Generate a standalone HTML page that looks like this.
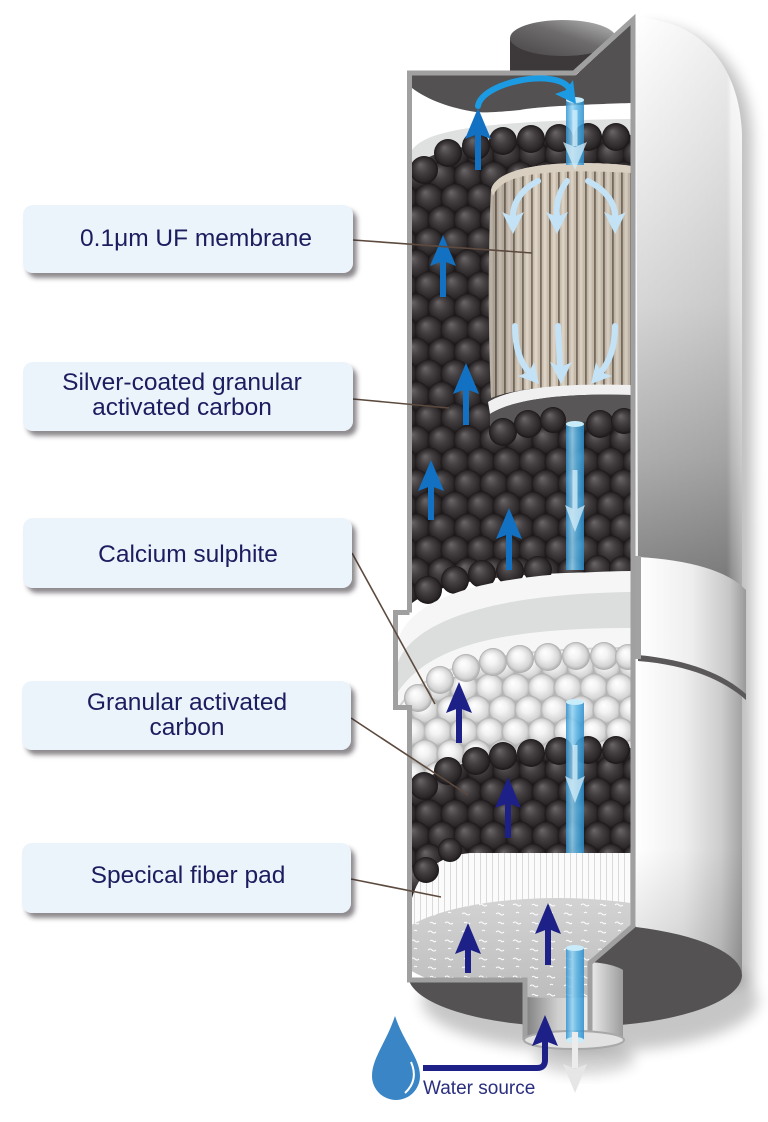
<!DOCTYPE html>
<html><head><meta charset="utf-8"><style>
html,body{margin:0;padding:0;background:#fff;}
svg{display:block;}
text{font-family:"Liberation Sans",Arial,sans-serif;}
</style></head><body>
<svg width="768" height="1122" viewBox="0 0 768 1122" xmlns="http://www.w3.org/2000/svg">
<defs>
<radialGradient id="gb" cx="0.5" cy="0.5" r="0.5" fx="0.36" fy="0.3"><stop offset="0" stop-color="#6a6566"/><stop offset="0.45" stop-color="#443f40"/><stop offset="0.85" stop-color="#2b2627"/><stop offset="1" stop-color="#1a1617"/></radialGradient>
<radialGradient id="gw" cx="0.5" cy="0.5" r="0.5" fx="0.38" fy="0.32"><stop offset="0" stop-color="#ffffff"/><stop offset="0.4" stop-color="#f3f3f3"/><stop offset="0.8" stop-color="#d5d5d5"/><stop offset="1" stop-color="#a9a9a9"/></radialGradient>
<pattern id="pc" width="52" height="44" patternUnits="userSpaceOnUse">
<rect width="52" height="44" fill="#1f1b1c"/>
<circle cx="0" cy="0" r="14.5" fill="url(#gb)"/><circle cx="26" cy="0" r="14.5" fill="url(#gb)"/><circle cx="52" cy="0" r="14.5" fill="url(#gb)"/>
<circle cx="13" cy="22" r="14.5" fill="url(#gb)"/><circle cx="39" cy="22" r="14.5" fill="url(#gb)"/>
<circle cx="0" cy="44" r="14.5" fill="url(#gb)"/><circle cx="26" cy="44" r="14.5" fill="url(#gb)"/><circle cx="52" cy="44" r="14.5" fill="url(#gb)"/>
</pattern>
<pattern id="pw" width="52" height="44" patternUnits="userSpaceOnUse" patternTransform="translate(9,6)">
<rect width="52" height="44" fill="#c6c6c6"/>
<circle cx="0" cy="0" r="14.5" fill="url(#gw)"/><circle cx="26" cy="0" r="14.5" fill="url(#gw)"/><circle cx="52" cy="0" r="14.5" fill="url(#gw)"/>
<circle cx="13" cy="22" r="14.5" fill="url(#gw)"/><circle cx="39" cy="22" r="14.5" fill="url(#gw)"/>
<circle cx="0" cy="44" r="14.5" fill="url(#gw)"/><circle cx="26" cy="44" r="14.5" fill="url(#gw)"/><circle cx="52" cy="44" r="14.5" fill="url(#gw)"/>
</pattern>
<pattern id="pm" width="9" height="20" patternUnits="userSpaceOnUse"><rect width="9" height="20" fill="#cbbfae"/><rect x="0" width="1.8" height="20" fill="#7b6f63"/><rect x="3.6" width="3" height="20" fill="#ded5c8"/></pattern>
<pattern id="pf" width="6" height="20" patternUnits="userSpaceOnUse"><rect width="6" height="20" fill="#fbfbfb"/><rect x="0" width="1" height="20" fill="#dadada"/></pattern>
<pattern id="pq" width="34" height="18" patternUnits="userSpaceOnUse"><path d="M3,5 q2,-2 4,0 t4,0 M20,14 q2,-2 4,0 t4,0 M22,5 q1.5,-1.5 3,0 t3,0 M6,13 q1.5,-1.5 3,0" stroke="#fff" stroke-width="1" fill="none"/></pattern>
<linearGradient id="upperG" gradientUnits="userSpaceOnUse" x1="0" y1="18" x2="0" y2="590"><stop offset="0" stop-color="#ffffff"/><stop offset="0.22" stop-color="#eeeeee"/><stop offset="0.5" stop-color="#d6d6d6"/><stop offset="0.77" stop-color="#adadad"/><stop offset="1" stop-color="#7e7e7e"/></linearGradient>
<linearGradient id="sideH" x1="0" y1="0" x2="1" y2="0"><stop offset="0" stop-color="#000" stop-opacity="0"/><stop offset="0.85" stop-color="#000" stop-opacity="0.06"/><stop offset="0.9" stop-color="#fff" stop-opacity="0.1"/><stop offset="1" stop-color="#fff" stop-opacity="0.35"/></linearGradient>
<linearGradient id="collarG" x1="0" y1="0" x2="1" y2="0"><stop offset="0" stop-color="#ffffff"/><stop offset="0.5" stop-color="#eeeeee"/><stop offset="0.85" stop-color="#c6c6c6"/><stop offset="1" stop-color="#999"/></linearGradient>
<linearGradient id="lowerG" x1="0" y1="0" x2="1" y2="0"><stop offset="0" stop-color="#ffffff"/><stop offset="0.45" stop-color="#efefef"/><stop offset="0.8" stop-color="#cdcdcd"/><stop offset="1" stop-color="#a3a3a3"/></linearGradient>
<linearGradient id="lowerV" x1="0" y1="0" x2="0" y2="1"><stop offset="0" stop-color="#000" stop-opacity="0"/><stop offset="0.6" stop-color="#000" stop-opacity="0"/><stop offset="1" stop-color="#000" stop-opacity="0.15"/></linearGradient>
<linearGradient id="capG" x1="0" y1="1" x2="1" y2="0"><stop offset="0" stop-color="#474445"/><stop offset="0.55" stop-color="#6e6c6c"/><stop offset="1" stop-color="#bdbdbd"/></linearGradient>
<linearGradient id="pipeG" x1="0" y1="0" x2="1" y2="0"><stop offset="0" stop-color="#2f93d1"/><stop offset="0.35" stop-color="#94d3f3"/><stop offset="0.6" stop-color="#58b5e7"/><stop offset="1" stop-color="#2a8ccb"/></linearGradient>
<linearGradient id="tubeIn" x1="0" y1="0" x2="1" y2="0"><stop offset="0" stop-color="#7a7a7a"/><stop offset="0.5" stop-color="#cfcfcf"/><stop offset="1" stop-color="#f2f2f2"/></linearGradient>
<linearGradient id="tubeOut" x1="0" y1="0" x2="1" y2="0"><stop offset="0" stop-color="#ededed"/><stop offset="1" stop-color="#9c9c9c"/></linearGradient>
<linearGradient id="diskG" x1="0" y1="0" x2="0" y2="1"><stop offset="0" stop-color="#d3d3d3"/><stop offset="1" stop-color="#bdbdbd"/></linearGradient>
<linearGradient id="memShade" x1="0" y1="0" x2="1" y2="0"><stop offset="0" stop-color="#000" stop-opacity="0.18"/><stop offset="0.3" stop-color="#000" stop-opacity="0"/><stop offset="1" stop-color="#000" stop-opacity="0.06"/></linearGradient>
<filter id="blur8" x="-30%" y="-30%" width="160%" height="160%"><feGaussianBlur stdDeviation="7"/></filter>
<filter id="sh" x="-10%" y="-20%" width="125%" height="150%"><feDropShadow dx="4" dy="5" stdDeviation="2.5" flood-color="#2e2a30" flood-opacity="0.55"/></filter>
<clipPath id="ci"><path d="M412,75.5 L575,75.5 L631,24 L631,925 L590,961 L590,1040 L527,1040 L527,978 L412,978 L412,710 L398,710 L398,615 L412,615 Z"/></clipPath>
</defs>

<rect width="768" height="1122" fill="#fff"/>

<!-- shadows -->
<path d="M646,26 C702,26 750,62 752,140 L753,985 L640,985 Z" fill="#000" opacity="0.25" filter="url(#blur8)"/>
<ellipse cx="590" cy="1000" rx="168" ry="52" fill="#000" opacity="0.22" filter="url(#blur8)"/>
<ellipse cx="585" cy="1058" rx="50" ry="16" fill="#000" opacity="0.18" filter="url(#blur8)"/>

<!-- top cap -->
<rect x="510" y="38" width="106" height="34" fill="#3d393a"/>
<ellipse cx="563" cy="38" rx="53" ry="18" fill="url(#capG)"/>

<!-- dark bottom -->
<ellipse cx="575" cy="975" rx="167" ry="52" fill="#545253"/>

<!-- shells -->
<path d="M636,18 C692,18 740,58 742,135 L742,590 C720,572 680,560 638,557 Z" fill="url(#upperG)"/>
<path d="M636,18 C692,18 740,58 742,135 L742,590 C720,572 680,560 638,557 Z" fill="url(#sideH)"/>
<path d="M636,658 C682,662 724,678 742,697 L742,975 A167,52 0 0 0 636,927 Z" fill="url(#lowerG)"/>
<path d="M636,658 C682,662 724,678 742,697 L742,975 A167,52 0 0 0 636,927 Z" fill="url(#lowerV)"/>
<path d="M638,557 C690,560 728,571 746,590 L746,694 C725,675 690,660 638,655 Z" fill="url(#collarG)"/>
<path d="M638,655 C690,660 725,675 746,694 L746,700 C725,681 690,665 638,661 Z" fill="#5a5858"/>
<rect x="631" y="556" width="10" height="103" fill="#a2a2a2"/>

<!-- tube outside -->
<path d="M590,962 C605,963 617,966 623,970 L623,1040 L590,1040 Z" fill="url(#tubeOut)"/>

<!-- interior -->
<g clip-path="url(#ci)">
<rect x="390" y="0" width="250" height="1050" fill="#ffffff"/>
<path d="M412,75 L576,75 L631,24 L631,103 C600,104 540,106 520,110 C500,112 485,113 476,112 C450,108 428,100 412,88 Z" fill="#535152"/>
<path d="M412,150 C425,132 470,121 631,119 L631,137 C480,137 432,150 412,170 Z" fill="#dfe0e0"/>
<!-- carbon 1 -->
<path d="M412,168 C430,150 480,137 631,135 L631,572 C500,572 440,582 412,603 Z" fill="url(#pc)"/>
<g fill="url(#gb)">
<circle cx="424" cy="170" r="14"/><circle cx="448" cy="153" r="14"/><circle cx="476" cy="146" r="14"/><circle cx="503" cy="141" r="14"/><circle cx="531" cy="139" r="14"/><circle cx="559" cy="138" r="14"/><circle cx="588" cy="137" r="14"/><circle cx="616" cy="137" r="14"/>
<circle cx="428" cy="590" r="14"/><circle cx="455" cy="580" r="14"/><circle cx="482" cy="574" r="14"/><circle cx="510" cy="571" r="14"/><circle cx="538" cy="570" r="14"/><circle cx="598" cy="569" r="14"/><circle cx="622" cy="569" r="13"/>
</g>
<!-- membrane -->
<path d="M491,190 C495,172 530,164 575,163 C600,163 620,164 631,166 L631,388 C580,384 520,386 491,398 C488,330 488,250 491,190 Z" fill="url(#pm)"/>
<path d="M491,190 C495,172 530,164 575,163 C600,163 620,164 631,166 L631,388 C580,384 520,386 491,398 C488,330 488,250 491,190 Z" fill="url(#memShade)"/>
<path d="M491,190 C495,172 530,164 575,163 C600,163 620,164 631,166 L631,173 C600,171 575,171 560,172 C520,174 500,180 493,196 Z" fill="#d9cfc1"/>
<!-- plate -->
<path d="M488,402 C510,388 560,383 631,385 L631,395 C570,393 515,398 490,414 Z" fill="#f0f0f0"/>
<path d="M490,414 C515,398 570,393 631,395 L631,418 L490,430 Z" fill="#585657"/>
<g fill="url(#gb)">
<circle cx="503" cy="432" r="14"/><circle cx="528" cy="424" r="14"/><circle cx="553" cy="420" r="13"/><circle cx="600" cy="424" r="14"/><circle cx="624" cy="421" r="13"/>
</g>
<!-- separator ring -->
<path d="M398,640 C412,598 480,573 631,571 L631,655 C500,655 430,668 398,715 Z" fill="#f6f6f6"/>
<path d="M398,662 C414,622 488,594 631,592 L631,628 C495,628 428,648 398,692 Z" fill="#dcdede"/>
<path d="M400,706 C425,667 495,648 631,648" stroke="#d2d4d4" stroke-width="2" fill="none"/>
<!-- white balls -->
<path d="M398,718 C425,676 495,655 631,653 L631,810 L398,810 Z" fill="url(#pw)"/>
<g fill="url(#gw)">
<circle cx="418" cy="698" r="14"/><circle cx="440" cy="680" r="14"/><circle cx="466" cy="668" r="14"/><circle cx="493" cy="662" r="14"/><circle cx="520" cy="659" r="14"/><circle cx="548" cy="657" r="14"/><circle cx="576" cy="656" r="14"/><circle cx="604" cy="656" r="14"/><circle cx="628" cy="657" r="13"/>
</g>
<!-- fiber band -->
<rect x="412" y="852" width="220" height="110" fill="url(#pf)"/>
<!-- carbon 2 -->
<path d="M412,792 C430,766 480,752 631,748 L631,853 L470,853 C440,856 420,870 412,898 Z" fill="url(#pc)"/>
<g fill="url(#gb)">
<circle cx="424" cy="786" r="14"/><circle cx="448" cy="771" r="14"/><circle cx="476" cy="761" r="14"/><circle cx="503" cy="756" r="14"/><circle cx="531" cy="753" r="14"/><circle cx="559" cy="751" r="14"/><circle cx="588" cy="750" r="14"/><circle cx="616" cy="750" r="14"/>
<circle cx="426" cy="870" r="13"/><circle cx="450" cy="850" r="12"/>
</g>
<!-- tube inside -->
<rect x="523" y="975" width="70" height="70" fill="url(#tubeIn)"/>
<!-- disk -->
<ellipse cx="558" cy="948" rx="165" ry="50" fill="url(#diskG)"/>
<ellipse cx="558" cy="948" rx="165" ry="50" fill="url(#pq)"/>
</g>

<!-- walls -->
<g stroke="#a0a0a0" stroke-width="5" fill="none" stroke-linejoin="miter">
<path d="M409.5,612.5 L409.5,73 L574,73 L633,19.5 L633,926 L590,963 L590,1040"/>
<path d="M409.5,612.5 L395.5,612.5 L395.5,707.5 L409.5,707.5 L409.5,980 L525,980 L525,1040"/>
</g>

<!-- tube bottom rim -->
<ellipse cx="574" cy="1040" rx="50" ry="9" fill="#e2e2e2" stroke="#a8a8a8" stroke-width="2"/>

<!-- pipes -->
<g opacity="0.85">
<rect x="566" y="100" width="18" height="65" fill="url(#pipeG)"/>
<rect x="566" y="424" width="18" height="146" fill="url(#pipeG)"/>
<rect x="566" y="702" width="18" height="151" fill="url(#pipeG)"/>
<rect x="566" y="948" width="18" height="92" fill="url(#pipeG)"/>
</g>
<g fill="#c9ecfb">
<ellipse cx="575" cy="100" rx="9" ry="3"/><ellipse cx="575" cy="424" rx="9" ry="3"/><ellipse cx="575" cy="702" rx="9" ry="3"/><ellipse cx="575" cy="948" rx="9" ry="3"/><ellipse cx="575" cy="1040" rx="9" ry="3"/>
</g>
<g fill="#d6effb" opacity="0.75" stroke="none">
<rect x="572.5" y="110" width="5" height="36"/><polygon points="575,170 587,142 575,147 563,142"/>
<rect x="572.5" y="470" width="5" height="40"/><polygon points="575,532 585,505 575,510 565,505"/>
<rect x="572.5" y="745" width="5" height="36"/><polygon points="575,803 585,776 575,781 565,776"/>
</g>
<!-- outlet arrow -->
<path d="M575,1032 V1068" stroke="#ececec" stroke-width="6"/>
<polygon points="575,1093 587,1064 575,1069 563,1064" fill="#e6e6e6"/>

<!-- light blue membrane arrows -->
<g stroke="#c4e2f6" stroke-width="6" fill="none" stroke-linecap="round">
<path d="M538,181 C520,190 513,204 513,216"/>
<path d="M567,181 C558,193 556,205 557,216"/>
<path d="M588,181 C606,190 615,203 615,216"/>
<path d="M515,326 C515,350 521,364 530,373"/>
<path d="M558,326 L560,366"/>
<path d="M615,326 C615,350 608,364 600,373"/>
</g>
<g fill="#c4e2f6">
<polygon points="513,234 524,212 513,217 502,212"/>
<polygon points="557,234 568,212 557,217 546,212"/>
<polygon points="615,234 626,212 615,217 604,212"/>
<polygon points="539,384 534,362 529,372 518,376"/>
<polygon points="561,384 572,362 561,367 550,362"/>
<polygon points="591,384 612,376 601,372 596,362"/>
</g>

<!-- blue arrows -->
<path d="M478,106 C482,82 555,68 569,88" stroke="#1d9be2" stroke-width="6" fill="none" stroke-linecap="round"/>
<polygon points="576,104 573,80 566,90 555,94" fill="#1d9be2"/>
<g stroke="#1271c2" stroke-width="6">
<path d="M478,170 V132"/><path d="M443,297 V259"/><path d="M466,425 V387"/><path d="M431,520 V484"/><path d="M509,570 V532"/>
</g>
<g fill="#1271c2">
<polygon points="478,108 491,139 478,134 465,139"/>
<polygon points="443,235 456,266 443,261 430,266"/>
<polygon points="466,363 479,394 466,389 453,394"/>
<polygon points="431,460 444,491 431,486 418,491"/>
<polygon points="509,508 522,539 509,534 496,539"/>
</g>
<g stroke="#1d2087" stroke-width="6" fill="none">
<path d="M459,743 V706"/><path d="M508,838 V801"/><path d="M468,973 V947"/><path d="M548,965 V927"/>
<path d="M423,1068 H537 Q545,1068 545,1060 V1040"/>
</g>
<g fill="#1d2087">
<polygon points="459,682 472,713 459,708 446,713"/>
<polygon points="508,777 521,808 508,803 495,808"/>
<polygon points="468,923 481,954 468,949 455,954"/>
<polygon points="548,903 561,934 548,929 535,934"/>
<polygon points="545,1015 558,1046 545,1041 532,1046"/>
</g>

<!-- water drop -->
<path d="M395,1016 C386,1043 372,1058 372,1076 A24,24 0 0 0 420,1076 C420,1058 404,1043 395,1016 Z" fill="#3a85c6"/>
<path d="M411,1062 Q419,1080 405,1093" stroke="#fff" stroke-width="2" fill="none"/>
<text x="423" y="1094" font-size="19" fill="#2a2e7e">Water source</text>

<!-- connectors -->
<g stroke="#5c4a3e" stroke-width="1.6">
<line x1="353" y1="240" x2="532" y2="253"/>
<line x1="353" y1="399" x2="449" y2="408"/>
<line x1="352" y1="553" x2="435" y2="704"/>
<line x1="351" y1="718" x2="468" y2="795"/>
<line x1="351" y1="879" x2="441" y2="897"/>
</g>

<!-- label boxes -->
<g fill="#ebf3fb" filter="url(#sh)">
<rect x="23" y="205" width="330" height="68" rx="10"/>
<rect x="23" y="362" width="330" height="69" rx="10"/>
<rect x="23" y="518" width="329" height="70" rx="10"/>
<rect x="22" y="681" width="329" height="69" rx="10"/>
<rect x="22" y="843" width="329" height="70" rx="10"/>
</g>
<g fill="#1b1d5e" font-size="24.5" text-anchor="middle">
<text x="196" y="246">0.1μm UF membrane</text>
<text x="182" y="390">Silver-coated granular</text>
<text x="182" y="415">activated carbon</text>
<text x="188" y="562">Calcium sulphite</text>
<text x="187" y="710">Granular activated</text>
<text x="187" y="735">carbon</text>
<text x="188" y="883">Specical fiber pad</text>
</g>
</svg>
</body></html>
